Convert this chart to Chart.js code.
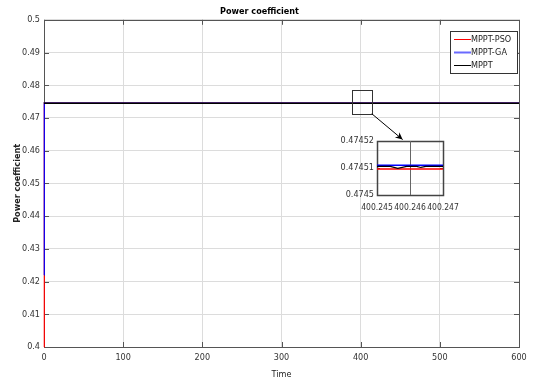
<!DOCTYPE html>
<html>
<head>
<meta charset="utf-8">
<script src="https://cdn.jsdelivr.net/npm/chart.js@4"></script>
<style>
  body { margin: 0; background: #fff; }
  #wrap { position: relative; width: 533px; height: 380px; }
  #main { position: absolute; left: 0; top: 0; }
  #inset { position: absolute; left: 330px; top: 135px; }
</style>
</head>
<body>
<div id="wrap">
  <canvas id="main" width="533" height="380"></canvas>
  <canvas id="inset" width="133" height="80"></canvas>
</div>
<script>
// series (time, power coefficient)
const seriesNames = ['MPPT-PSO', 'MPPT-GA', 'MPPT'];
const seriesColors = ['#ff0000', '#0000ff', '#000000'];
const psoTime = [0, 0.4, 600];
const psoValue = [0.4, 0.4745096, 0.4745096];
const gaTime = [0, 0.4, 600];
const gaValue = [0.422, 0.474511, 0.474511];
const mpptTime = [0, 0.4, 600];
const mpptValue = [0.4745, 0.4745106, 0.4745106];

// zoomed detail
const insetPsoTime = [400.245, 400.247];
const insetPsoValue = [0.4745096, 0.4745096];
const insetGaTime = [400.245, 400.247];
const insetGaValue = [0.474511, 0.474511];
const insetMpptTime = [400.245, 400.2454, 400.24563, 400.2459, 400.2462, 400.24633, 400.24648, 400.247];
const insetMpptValue = [0.4745106, 0.4745106, 0.4745099, 0.4745106, 0.4745106, 0.4745102, 0.4745106, 0.4745106];

const xTicks = [0, 100, 200, 300, 400, 500, 600];
const yTicks = [0.4, 0.41, 0.42, 0.43, 0.44, 0.45, 0.46, 0.47, 0.48, 0.49, 0.5];
const insetXTicks = [400.245, 400.246, 400.247];
const insetYTicks = [0.4745, 0.47451, 0.47452];

const fontFamily = 'DejaVu Sans Condensed, Liberation Sans Narrow, Liberation Sans';
const tickFont = { family: fontFamily, size: 9 };

function toPoints(xs, ys) {
    return xs.map((x, i) => ({ x: x, y: ys[i] }));
}

function makeDatasets(sets, widths) {
    // black (last) drawn on top
    return sets.map((s, i) => ({
        label: seriesNames[i],
        data: toPoints(s[0], s[1]),
        borderColor: seriesColors[i],
        borderWidth: widths[i],
        pointRadius: 0,
        tension: 0,
        fill: false,
        clip: 3,
        order: sets.length - i
    }));
}

function fixedTicks(list) {
    return function(scale) {
        scale.ticks = list.map(v => ({ value: v }));
    };
}

// box, inward ticks
const boxPlugin = {
    id: 'box',
    beforeDatasetsDraw(chart, args, opts) {
        const ctx = chart.ctx;
        const a = chart.chartArea;
        const xs = chart.scales.x, ys = chart.scales.y;
        const len = opts.tickLen;
        ctx.save();
        ctx.strokeStyle = opts.color;
        ctx.lineWidth = 1;
        ctx.beginPath();
        xs.ticks.forEach(t => {
            const px = Math.round(xs.getPixelForValue(t.value)) + 0.5;
            ctx.moveTo(px, a.bottom); ctx.lineTo(px, a.bottom - len);
            ctx.moveTo(px, a.top); ctx.lineTo(px, a.top + len);
        });
        ys.ticks.forEach(t => {
            const py = Math.round(ys.getPixelForValue(t.value)) + 0.5;
            ctx.moveTo(a.left, py); ctx.lineTo(a.left + len, py);
            ctx.moveTo(a.right, py); ctx.lineTo(a.right - len, py);
        });
        ctx.stroke();
        ctx.lineWidth = opts.width;
        ctx.strokeRect(Math.round(a.left) + 0.5, Math.round(a.top) + 0.5,
            Math.round(a.right - a.left), Math.round(a.bottom - a.top));
        ctx.restore();
    }
};

// legend box and zoom marker on main chart
const annotPlugin = {
    id: 'annot',
    afterDraw(chart) {
        const ctx = chart.ctx;
        const xs = chart.scales.x, ys = chart.scales.y;
        ctx.save();
        // zoom square
        const x0 = xs.getPixelForValue(389), x1 = xs.getPixelForValue(414);
        const y0 = ys.getPixelForValue(0.4786), y1 = ys.getPixelForValue(0.4713);
        ctx.strokeStyle = '#333';
        ctx.lineWidth = 1;
        ctx.strokeRect(Math.round(x0) + 0.5, Math.round(y0) + 0.5, Math.round(x1 - x0), Math.round(y1 - y0));
        // arrow
        const ax = xs.getPixelForValue(453), ay = ys.getPixelForValue(0.4634);
        ctx.strokeStyle = '#000';
        ctx.beginPath();
        ctx.moveTo(x1, y1); ctx.lineTo(ax, ay);
        ctx.stroke();
        const ang = Math.atan2(ay - y1, ax - x1);
        ctx.fillStyle = '#000';
        ctx.beginPath();
        ctx.moveTo(ax, ay);
        ctx.lineTo(ax - 8 * Math.cos(ang - 0.45), ay - 8 * Math.sin(ang - 0.45));
        ctx.lineTo(ax - 5 * Math.cos(ang), ay - 5 * Math.sin(ang));
        ctx.lineTo(ax - 8 * Math.cos(ang + 0.45), ay - 8 * Math.sin(ang + 0.45));
        ctx.closePath();
        ctx.fill();

        // legend
        const lx = 450, ly = 31, lw = 67, lh = 42;
        ctx.fillStyle = '#fff';
        ctx.fillRect(lx, ly, lw, lh);
        ctx.strokeStyle = '#333';
        ctx.lineWidth = 1;
        ctx.strokeRect(lx + 0.5, ly + 0.5, lw, lh);
        ctx.font = '9px ' + fontFamily;
        ctx.textBaseline = 'middle';
        chart.data.datasets.forEach((ds, i) => {
            const yy = Math.round(ly + 8 + i * 13) + 0.5;
            ctx.strokeStyle = i === 1 ? '#6a6aff' : ds.borderColor;
            ctx.lineWidth = i === 1 ? 2 : 1;
            ctx.beginPath();
            ctx.moveTo(lx + 4, yy); ctx.lineTo(lx + 21, yy);
            ctx.stroke();
            ctx.fillStyle = '#222';
            ctx.fillText(ds.label, lx + 21, yy);
        });
        ctx.restore();
    }
};

new Chart(document.getElementById('main'), {
    type: 'line',
    data: {
        datasets: makeDatasets([[psoTime, psoValue], [gaTime, gaValue], [mpptTime, mpptValue]], [1.2, 1.2, 1.4])
    },
    options: {
        responsive: false,
        animation: false,
        layout: { padding: { left: 0, right: 14, top: 0, bottom: 0 } },
        plugins: {
            legend: { display: false },
            tooltip: { enabled: false },
            title: {
                display: true,
                text: 'Power coefficient',
                color: '#000',
                font: { family: fontFamily, size: 9, weight: 'bold' },
                padding: { top: 6, bottom: 3 }
            },
            box: { color: '#555', width: 1, tickLen: 5 }
        },
        scales: {
            x: {
                type: 'linear',
                min: 0, max: 600,
                afterBuildTicks: fixedTicks(xTicks),
                afterFit(s) { s.height = 33; },
                grid: { color: '#dcdcdc', drawTicks: false },
                border: { display: false },
                ticks: { color: '#333', font: tickFont, padding: 5, maxRotation: 0 },
                title: { display: true, text: 'Time', color: '#222', font: tickFont, padding: { top: 3, bottom: 0 } }
            },
            y: {
                type: 'linear',
                min: 0.4, max: 0.5,
                afterBuildTicks: fixedTicks(yTicks),
                afterFit(s) { s.width = 44; },
                grid: { color: '#dcdcdc', drawTicks: false },
                border: { display: false },
                ticks: { color: '#333', font: tickFont, padding: 4, callback: v => +v.toFixed(2) + '' },
                title: { display: true, text: 'Power coefficient', color: '#222',
                    font: { family: fontFamily, size: 9, weight: 'bold' }, padding: { top: 12, bottom: 0 } }
            }
        }
    },
    plugins: [boxPlugin, annotPlugin]
});

new Chart(document.getElementById('inset'), {
    type: 'line',
    data: {
        datasets: makeDatasets([[insetPsoTime, insetPsoValue], [insetGaTime, insetGaValue], [insetMpptTime, insetMpptValue]], [1.5, 1.5, 1.2])
    },
    options: {
        responsive: false,
        animation: false,
        layout: { padding: { left: 0, right: 20, top: 6, bottom: 0 } },
        plugins: {
            legend: { display: false },
            tooltip: { enabled: false },
            box: { color: '#444', width: 1.5, tickLen: 3 }
        },
        scales: {
            x: {
                type: 'linear',
                min: 400.245, max: 400.247,
                afterBuildTicks: fixedTicks(insetXTicks),
                afterFit(s) { s.height = 20; s.paddingLeft = 0; s.paddingRight = 0; },
                grid: { display: false, drawTicks: false },
                border: { display: false },
                ticks: { color: '#333', font: { family: fontFamily, size: 8.5 }, padding: 8, maxRotation: 0, autoSkip: false,
                    callback: v => v.toFixed(3) }
            },
            y: {
                type: 'linear',
                min: 0.4745, max: 0.47452,
                afterBuildTicks: fixedTicks(insetYTicks),
                afterFit(s) { s.width = 47; s.paddingTop = 0; s.paddingBottom = 0; },
                grid: { display: false, drawTicks: false },
                border: { display: false },
                ticks: { color: '#333', font: tickFont, padding: 3, callback: v => +v.toFixed(5) + '' }
            }
        }
    },
    plugins: [boxPlugin, {
        id: 'midline',
        beforeDatasetsDraw(chart) {
            const ctx = chart.ctx, a = chart.chartArea;
            const px = Math.round(chart.scales.x.getPixelForValue(insetXTicks[1])) + 0.5;
            ctx.save();
            ctx.strokeStyle = '#666';
            ctx.lineWidth = 1;
            ctx.beginPath();
            ctx.moveTo(px, a.top); ctx.lineTo(px, a.bottom);
            ctx.stroke();
            ctx.restore();
        }
    }]
});
</script>
</body>
</html>
